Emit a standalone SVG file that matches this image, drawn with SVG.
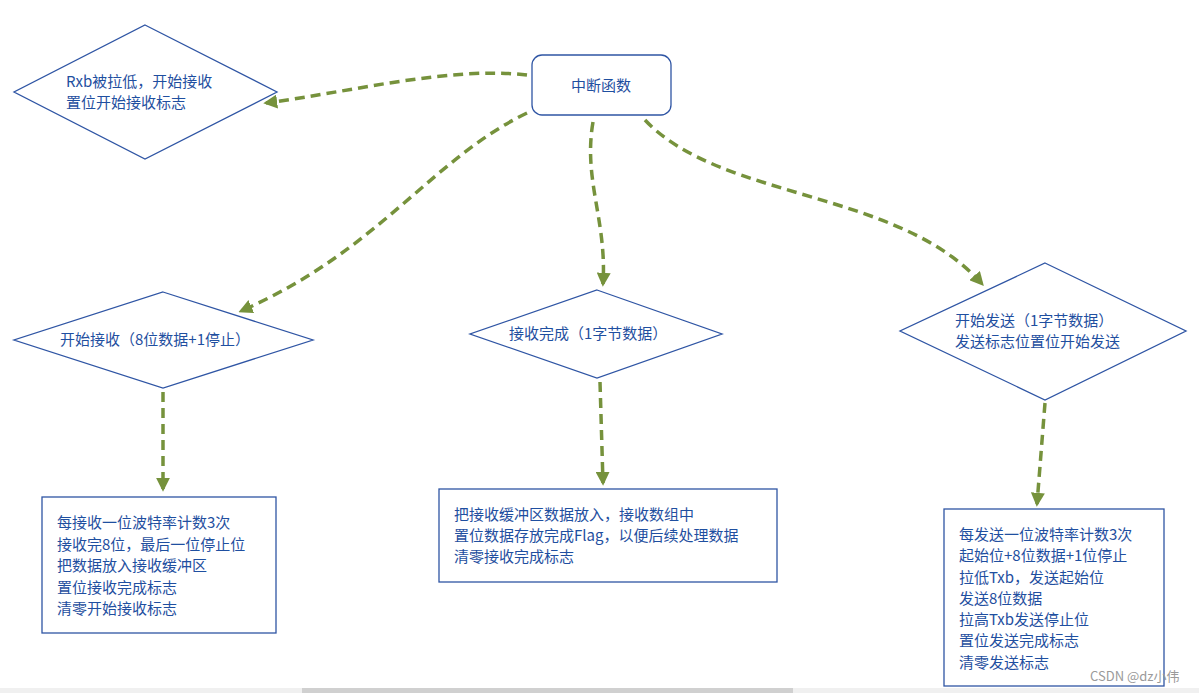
<svg xmlns="http://www.w3.org/2000/svg" width="1199" height="693" viewBox="0 0 1199 693">
<style>
.s{fill:#fff;stroke:#2f55a4;stroke-width:1.3}
.t{font-family:"Noto Sans CJK SC","Liberation Sans",sans-serif;font-size:15px;fill:#1f4fa0}
.c{fill:none;stroke:#76923c;stroke-width:3.5;stroke-dasharray:10,6}
</style>
<defs><marker id="a" viewBox="0 0 10 10" refX="8" refY="5" markerWidth="4" markerHeight="4" orient="auto"><path d="M0,0L10,5L0,10z" fill="#76923c"/></marker></defs>
<rect width="1199" height="693" fill="#fff"/>
<g id="n0"><rect class="s" x="532" y="55" width="139" height="60" rx="10"/><text class="t" x="601" y="91" text-anchor="middle" fill="#2b3a6b">中断函数</text></g>
<g id="n1"><polygon class="s" points="145,25 277,92 145,159 14,92"/><text class="t" x="66" y="87">Rxb被拉低，开始接收</text><text class="t" x="66" y="108">置位开始接收标志</text></g>
<g id="n2"><polygon class="s" points="163,292 313,340 163,388 14,340"/><text class="t" x="60" y="345">开始接收（8位数据+1停止）</text></g>
<g id="n3"><polygon class="s" points="597,290 722,334 597,378 470,334"/><text class="t" x="509" y="339">接收完成（1字节数据）</text></g>
<g id="n4"><polygon class="s" points="1045,263 1186,331 1045,400 900,331"/><text class="t" x="955" y="326">开始发送（1字节数据）</text><text class="t" x="955" y="347">发送标志位置位开始发送</text></g>
<g id="n5"><rect class="s" x="42" y="497" width="234" height="136"/><text class="t" x="57" y="528">每接收一位波特率计数3次</text><text class="t" x="57" y="550">接收完8位，最后一位停止位</text><text class="t" x="57" y="571">把数据放入接收缓冲区</text><text class="t" x="57" y="593">置位接收完成标志</text><text class="t" x="57" y="614">清零开始接收标志</text></g>
<g id="n6"><rect class="s" x="439" y="489" width="338" height="93"/><text class="t" x="454" y="520">把接收缓冲区数据放入，接收数组中</text><text class="t" x="454" y="541">置位数据存放完成Flag，以便后续处理数据</text><text class="t" x="454" y="562">清零接收完成标志</text></g>
<g id="n7"><rect class="s" x="944" y="509" width="220" height="177"/><text class="t" x="959" y="540">每发送一位波特率计数3次</text><text class="t" x="959" y="561">起始位+8位数据+1位停止</text><text class="t" x="959" y="583">拉低Txb，发送起始位</text><text class="t" x="959" y="604">发送8位数据</text><text class="t" x="959" y="625">拉高Txb发送停止位</text><text class="t" x="959" y="646">置位发送完成标志</text><text class="t" x="959" y="668">清零发送标志</text></g>
<g id="connectors">
<path class="c" marker-end="url(#a)" d="M527,75 C450,66 350,92 266,103"/>
<path class="c" marker-end="url(#a)" d="M527,113 C430,160 380,250 241,311"/>
<path class="c" marker-end="url(#a)" d="M593,122 C583,180 607,220 603,284"/>
<path class="c" marker-end="url(#a)" d="M645,120 C720,200 900,190 982,284"/>
<path class="c" marker-end="url(#a)" d="M163,392 L163,489"/>
<path class="c" marker-end="url(#a)" d="M600,382 L603,483"/>
<path class="c" marker-end="url(#a)" d="M1045,403 L1037,504"/>
</g>
<rect x="0" y="688" width="1199" height="5" fill="#f0f0f0"/>
<rect x="302" y="688" width="491" height="5" fill="#d0d0d0"/>
<text x="1090" y="681" font-family="Noto Sans CJK SC,Liberation Sans,sans-serif" font-size="13" fill="#9a9a9a">CSDN @dz小伟</text>
</svg>
